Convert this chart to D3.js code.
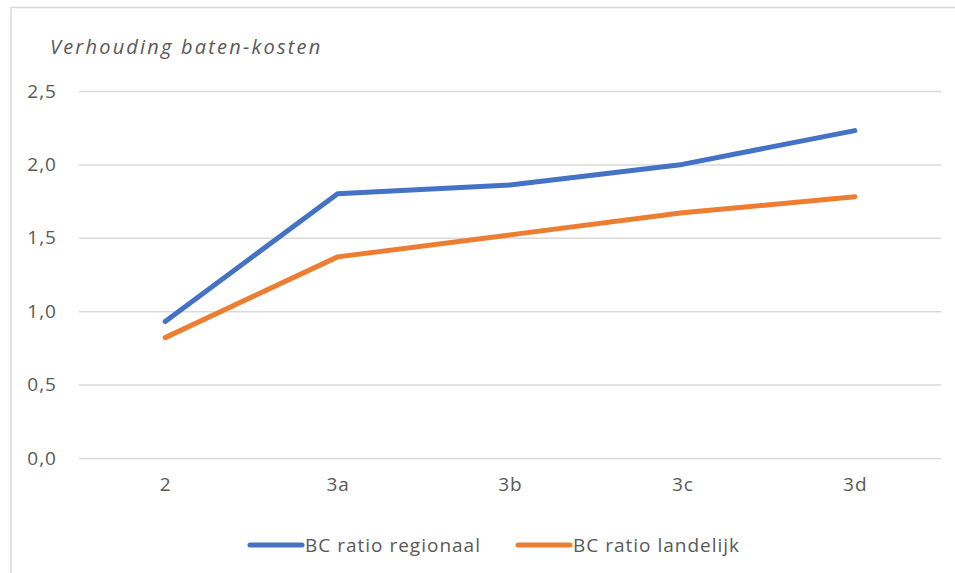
<!DOCTYPE html>
<html><head><meta charset="utf-8">
<script src="https://cdn.jsdelivr.net/npm/d3@7"></script>
<style>body{margin:0;background:#fff}svg{display:block}</style>
</head><body>
<svg id="c" width="955" height="573"></svg>
<script>
const categories = ["2", "3a", "3b", "3c", "3d"];
const regionaal = [0.93, 1.80, 1.86, 2.00, 2.23];
const landelijk = [0.82, 1.37, 1.52, 1.67, 1.78];
const yTicks = [0, 0.5, 1.0, 1.5, 2.0, 2.5];
const seriesNames = ["BC ratio regionaal", "BC ratio landelijk"];
const seriesColors = ["#4472C4", "#ED7D31"];
const yTitle = "Verhouding baten-kosten";

const font = "'Open Sans', 'Noto Sans', sans-serif";
const svg = d3.select("#c");
const W = 955, H = 573;

// chart border (cut off at right/bottom in reference)
svg.append("path").attr("d", `M11,${H+2}V7.5H${W+2}`).attr("fill","none")
  .attr("stroke","#d9d9d9").attr("stroke-width",1.5);

const x = d3.scalePoint().domain(categories).range([79, 941]).padding(0.5);
const y = d3.scaleLinear().domain([0, 2.5]).range([458, 91]);

const fmt = d => d3.format(".1f")(d).replace(".", ",");

const gy = svg.append("g").attr("transform","translate(79,0)")
  .call(d3.axisLeft(y).tickValues(yTicks).tickSize(-862).tickFormat(fmt).tickPadding(22));
gy.select(".domain").remove();
gy.selectAll(".tick line").attr("stroke","#d9d9d9").attr("stroke-width",1.5);
gy.selectAll(".tick text").attr("font-family",font).attr("font-size",19)
  .attr("letter-spacing",1).attr("fill","#595959");

const gx = svg.append("g").attr("transform","translate(0,458)")
  .call(d3.axisBottom(x).tickSize(0).tickPadding(20));
gx.select(".domain").remove();
gx.selectAll(".tick text").attr("font-family",font).attr("font-size",19)
  .attr("letter-spacing",1).attr("fill","#595959");

svg.append("text").attr("x", 50).attr("y", 54).attr("font-family",font)
  .attr("font-style","italic").attr("font-size",20).attr("letter-spacing",2.2)
  .attr("fill","#595959").text(yTitle);

const line = d3.line().x((d,i)=>x(categories[i])).y(d=>y(d));
[regionaal, landelijk].forEach((s, k) => {
  svg.append("path").datum(s).attr("d", line).attr("fill","none")
    .attr("stroke", seriesColors[k]).attr("stroke-width", 5)
    .attr("stroke-linecap","round").attr("stroke-linejoin","round");
});

// legend
const legX = [250, 518];
seriesNames.forEach((n, k) => {
  const g = svg.append("g").attr("transform", `translate(${legX[k]},545)`);
  g.append("line").attr("x1",0).attr("x2",52).attr("stroke",seriesColors[k])
    .attr("stroke-width",5).attr("stroke-linecap","round");
  g.append("text").attr("x",55).attr("y",7).attr("font-family",font)
    .attr("font-size",19).attr("letter-spacing",1).attr("fill","#595959").text(n);
});
</script>
</body></html>
